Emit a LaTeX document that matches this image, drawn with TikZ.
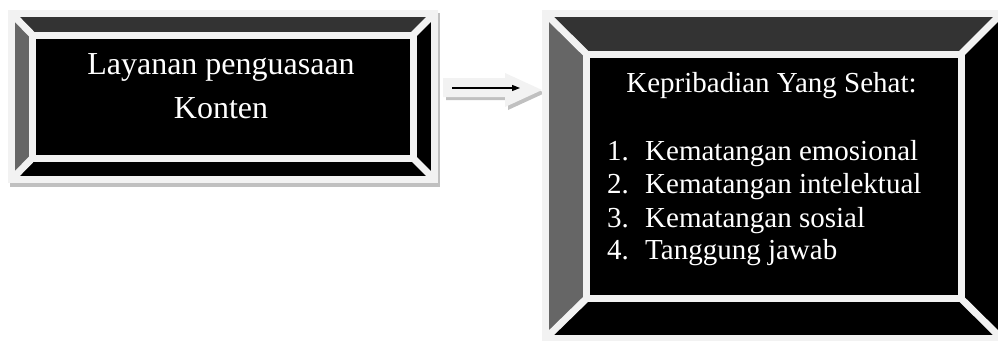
\documentclass[tikz,border=0pt]{standalone}
\usepackage{fontspec}
\setmainfont{Liberation Serif}
\usetikzlibrary{arrows.meta}
\definecolor{lt}{HTML}{F2F2F2}
\definecolor{sh}{HTML}{C0C0C0}
\definecolor{dk}{HTML}{333333}
\definecolor{md}{HTML}{666666}
\newcommand\bevelframe[8]{%
  \fill[dk] (#1,#2) -- (#3,#2) -- (#7,#6) -- (#5,#6) -- cycle;
  \fill[md] (#1,#2) -- (#5,#6) -- (#5,#8) -- (#1,#4) -- cycle;
  \fill[black] (#3,#2) -- (#3,#4) -- (#7,#8) -- (#7,#6) -- cycle;
  \fill[black] (#1,#4) -- (#3,#4) -- (#7,#8) -- (#5,#8) -- cycle;
  \fill[black] (#5,#6) rectangle (#7,#8);
  \draw[band] (#1,#2) -- (#5,#6) (#3,#2) -- (#7,#6) (#1,#4) -- (#5,#8) (#3,#4) -- (#7,#8);
  \draw[band] (#1,#2) rectangle (#3,#4);
  \draw[band] (#5,#6) rectangle (#7,#8);
}
\begin{document}
\begin{tikzpicture}[x=1pt,y=-1pt,
  band/.style={draw=lt,line width=7pt,line join=miter},
  txt/.style={text=white,inner sep=0pt},
  bigtxt/.style={txt,font=\fontsize{32}{44}\selectfont},
  smalltxt/.style={txt,font=\fontsize{29}{33}\selectfont},
  link/.style={draw=black,line width=1.2pt,-{Triangle[length=8pt,width=6pt]}}]
\useasboundingbox (0,0) rectangle (998,340);
\clip (0,0) rectangle (998,340);
% left box
\fill[sh] (10,13) rectangle (440,187);
\bevelframe{11.5}{13.5}{434.5}{179.5}{32.5}{35}{413}{158}
\node[bigtxt,anchor=base] (l1) at (221,74) {Layanan penguasaan};
\node[bigtxt,anchor=base] (l2) at (221,118) {Konten};
% block arrow
\fill[sh] (446,81) -- (508,81) -- (508,76) -- (545,93) -- (508,110) -- (508,100) -- (446,100) -- cycle;
\fill[lt] (443,78) -- (505,78) -- (505,73) -- (542,90) -- (505,107) -- (505,97) -- (443,97) -- cycle;
\coordinate (as) at (452,88);
\coordinate (ae) at (520,88);
\draw[link] (as) -- (ae);
% right box
\bevelframe{545.5}{13.5}{1001.5}{338.5}{586.5}{54}{961}{298.5}
\node[smalltxt,anchor=base] (r0) at (771.5,92) {Kepribadian Yang Sehat:};
\node[smalltxt,anchor=base west] (n1) at (607,160) {1.};
\node[smalltxt,anchor=base west] (r1) at (645,160) {Kematangan emosional};
\node[smalltxt,anchor=base west] (n2) at (607,193) {2.};
\node[smalltxt,anchor=base west] (r2) at (645,193) {Kematangan intelektual};
\node[smalltxt,anchor=base west] (n3) at (607,227) {3.};
\node[smalltxt,anchor=base west] (r3) at (645,227) {Kematangan sosial};
\node[smalltxt,anchor=base west] (n4) at (607,259) {4.};
\node[smalltxt,anchor=base west] (r4) at (645,259) {Tanggung jawab};
\end{tikzpicture}
\end{document}
